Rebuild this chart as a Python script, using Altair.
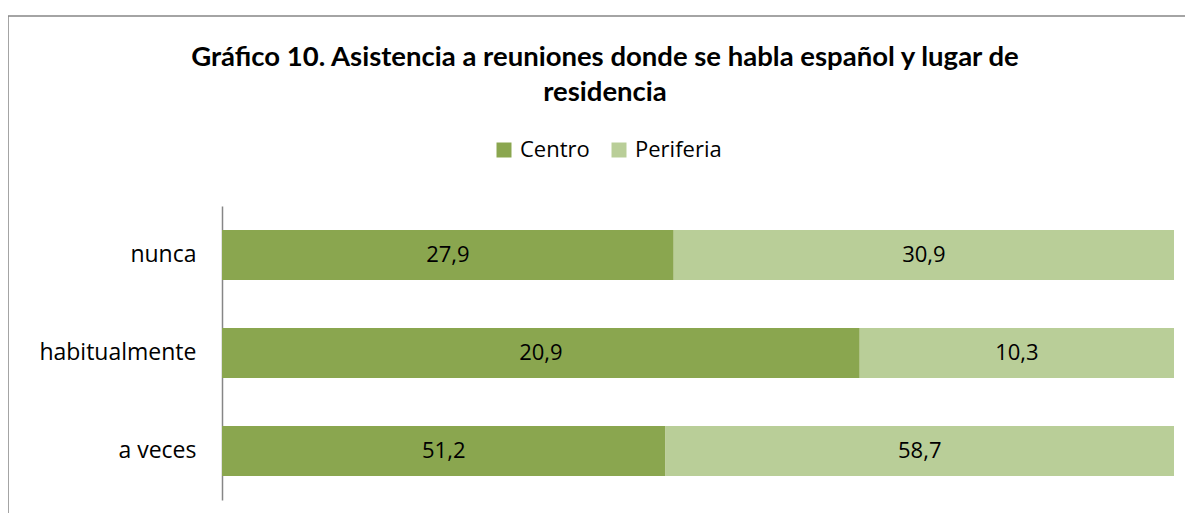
import altair as alt
import pandas as pd

categories = ["nunca", "habitualmente", "a veces"]
series = ["Centro", "Periferia"]
centro = [27.9, 20.9, 51.2]
periferia = [30.9, 10.3, 58.7]
colors = ["#8AA64F", "#B9CE98"]

rows = []
for i, c in enumerate(categories):
    rows.append({"cat": c, "serie": "Centro", "ord": 0, "value": centro[i]})
    rows.append({"cat": c, "serie": "Periferia", "ord": 1, "value": periferia[i]})
df = pd.DataFrame(rows)

FONT = "Open Sans"
TFONT = "Lato"

base = alt.Chart(df).transform_stack(
    stack="value", groupby=["cat"], as_=["v0", "v1"], offset="normalize",
    sort=[alt.SortField("ord", order="ascending")]
).transform_calculate(
    mid="(datum.v0 + datum.v1) / 2",
    label="replace(format(datum.value, '.1f'), '.', ',')"
)

y_enc = alt.Y("cat:N", sort=categories, title=None,
              scale=alt.Scale(paddingInner=0.49, paddingOuter=0.245),
              axis=alt.Axis(labelFont=FONT, labelFontSize=23, labelColor="#000000",
                            labelPadding=26, ticks=False, domainColor="#868686",
                            domainWidth=1.5, grid=False))

bars = base.mark_bar().encode(
    y=y_enc,
    x=alt.X("v0:Q", scale=alt.Scale(domain=[0, 1]), axis=None),
    x2="v1:Q",
    color=alt.Color("serie:N", sort=series,
                    scale=alt.Scale(domain=series, range=colors),
                    legend=alt.Legend(title=None, orient="none", direction="horizontal",
                                      legendX=271, legendY=-67,
                                      symbolType="square", symbolSize=225,
                                      symbolStrokeWidth=0,
                                      labelFont=FONT, labelFontSize=22,
                                      labelColor="#000000", columnPadding=18,
                                      labelOffset=5)),
)

texts = base.mark_text(font=FONT, fontSize=22, color="#000000").encode(
    y=alt.Y("cat:N", sort=categories),
    x=alt.X("mid:Q"),
    text="label:N",
)

frame = alt.Chart(pd.DataFrame({"a": [0]})).mark_rect(
    fill=None, stroke="#868686", strokeWidth=1.5
).encode(
    x=alt.value(-214), x2=alt.value(1000), y=alt.value(-190), y2=alt.value(330)
)

chart = alt.layer(frame, bars, texts).properties(
    width=952, height=294,
    autosize=alt.AutoSizeParams(type="none"),
    padding={"left": 214, "top": 198, "right": 11, "bottom": 13},
    title=alt.TitleParams(
        text=["Gráfico 10. Asistencia a reuniones donde se habla español y lugar de",
              "residencia"],
        font=TFONT, fontSize=27.5, fontWeight="bold", color="#000000",
        anchor="middle", frame="group", dx=-93, offset=-91, lineHeight=35,
    ),
).configure_view(stroke=None)

chart.save("out.html", embed_options={"renderer": "svg", "actions": False})
